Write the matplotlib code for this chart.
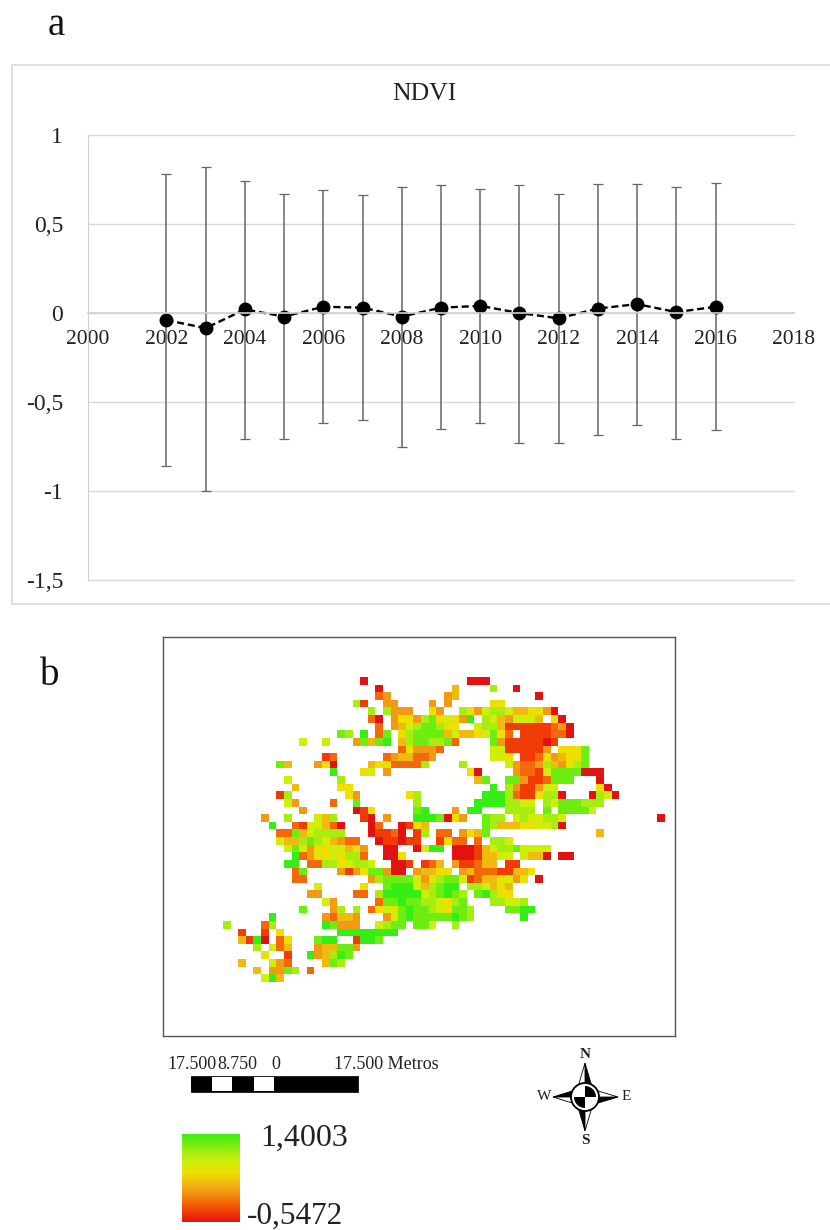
import numpy as np
import matplotlib
matplotlib.use("Agg")
import matplotlib.pyplot as plt
from matplotlib.colors import LinearSegmentedColormap
from matplotlib.patches import Rectangle, Polygon, Wedge, Circle

plt.rcParams['font.family'] = ['Liberation Serif', 'DejaVu Serif']

# ---- panel a data ----
years = list(range(2002, 2017))
ndvi_mean = [-0.04, -0.085, 0.02, -0.02, 0.035, 0.03, -0.02, 0.03, 0.04, 0.0, -0.03, 0.025, 0.05, 0.005, 0.035]
ndvi_upper = [0.78, 0.82, 0.74, 0.67, 0.69, 0.665, 0.71, 0.72, 0.695, 0.72, 0.67, 0.725, 0.725, 0.71, 0.73]
ndvi_lower = [-0.86, -1.0, -0.71, -0.71, -0.62, -0.60, -0.755, -0.65, -0.62, -0.73, -0.73, -0.685, -0.63, -0.71, -0.66]
x_ticks = [2000, 2002, 2004, 2006, 2008, 2010, 2012, 2014, 2016, 2018]
y_ticks = [-1.5, -1, -0.5, 0, 0.5, 1]
y_labels = ['-1,5', '-1', '-0,5', '0', '0,5', '1']

# ---- panel b data: class per cell, by row: (first column, classes; '.' = no data) ----
map_rows = [
    [(18, "0"), (32, "000")],
    [(20, "0"), (30, "4"), (35, "7"), (38, "0")],
    [(20, "23"), (29, "34"), (41, "0")],
    [(17, "71"), (21, "33"), (27, "3"), (29, "3"), (35, "55")],
    [(19, "7.7333"), (27, "53"), (31, "7536776445530")],
    [(19, "20.35537856539.76436664.50")],
    [(20, "2.346788755..6774111111230")],
    [(15, "87.9.28.578888464456852.1111220")],
    [(10, "6"), (13, "6"), (17, "38489.47887782"), (35, "83111110" + "1")],
    [(23, "253332"), (35, "66111113.5558")],
    [(13, "12"), (21, "2344223"), (35, "665.112534558")],
    [(7, "84"), (12, "350"), (19, "45522227"), (31, "7"), (37, "63223743578")],
    [(14, "9"), (18, "56.3"), (32, "50"), (38, "322168888000")],
    [(8, "6"), (15, "7"), (33, "48"), (37, "883112888"), (49, "0")],
    [(9, "4"), (15, "55"), (35, "9"), (37, "7311366"), (49, "50")],
    [(7, "17"), (16, "53"), (24, "57"), (34, "99972115770"), (48, "0760")],
    [(8, "63"), (14, "2"), (17, "8"), (25, "7"), (33, "99997766.76888777")],
    [(10, "3"), (17, "015"), (25, "89"), (30, "3.99"), (37, "7777.8.88886")],
    [(5, "3"), (8, "7"), (12, "647"), (18, "10.3"), (25, "9998053"), (34, "877.6766776"), (57, "0")],
    [(6, "9"), (9, "2166420"), (19, "02"), (23, "0154"), (34, "87444556670")],
    [(7, "228467777"), (19, "01120.17.22.3548"), (49, "4")],
    [(7, "64478764322"), (20, "011011"), (28, "1522.2"), (35, "776")],
    [(8, "68635566453"), (21, "00"), (25, "0699"), (30, "0001467786666")],
    [(9, "9235565772"), (21, "005"), (30, "00014466.6440.00")],
    [(8, "99.227756776"), (22, "001.124"), (30, "311244.11")],
    [(9, "28"), (15, "313588300"), (25, "34455.3422211445")],
    [(9, "22"), (19, "378888635788612445635.0")],
    [(12, "6"), (18, "5"), (21, "8999647899.776454")],
    [(11, "33"), (17, "22.799999678987.89755")],
    [(13, "63"), (20, "288988776578"), (35, "77667")],
    [(10, "8"), (14, "37.7.25658988765887"), (37, "8899")],
    [(6, "9"), (13, "32443"), (21, "368988888987"), (39, "9")],
    [(0, "7"), (5, "27"), (13, "98333"), (20, "6788.886"), (30, "7")],
    [(2, "1"), (5, "1.5"), (15, "99999999")],
    [(2, "4190.25"), (12, "899"), (17, "1998")],
    [(4, "7.624"), (12, "344883")],
    [(5, "5"), (8, "1"), (11, "934798")],
    [(2, "4"), (6, "632"), (13, "487")],
    [(4, "4"), (6, "3387"), (11, "2")],
    [(5, "694")],
]
n_cols = 58
map_min, map_max = -0.5472, 1.4003
class_colors = ['#e31212', '#f23c05', '#f56a0a', '#f29a14', '#f0bb10',
                '#eee000', '#d0ee0a', '#a8ee10', '#6eee10', '#34ee14']
cb_labels = ['1,4003', '-0,5472']
scale_labels = ['17.500', '8.750', '0', '17.500 Metros']
scale_edges = [0, 64, 124, 190, 250, 501]

W, H = 830, 1230
fig = plt.figure(figsize=(W / 100, H / 100), dpi=100, facecolor='white')


def rect(l, t, r, b):
    return [l / W, 1 - b / H, (r - l) / W, (b - t) / H]


# overlay in pixel units for the decoration
ov = fig.add_axes([0, 0, 1, 1], zorder=0)
ov.set_xlim(0, W)
ov.set_ylim(H, 0)
ov.axis('off')
ov.add_patch(Rectangle((12, 65), 830, 539, fc='white', ec='#d9d9d9', lw=1.2))
ov.text(56, 35, 'a', fontsize=28, ha='center', va='baseline', color='#111111')
ov.text(50, 685, 'b', fontsize=28, ha='center', va='baseline', color='#111111')

# ---- panel a ----
ax = fig.add_axes(rect(88, 135, 794, 580), zorder=1)
ax.patch.set_alpha(0)
for s in ('top', 'right'):
    ax.spines[s].set_visible(False)
ax.spines['left'].set_color('#d0d0d0')
ax.spines['bottom'].set_position(('data', 0))
ax.spines['bottom'].set_color('#d0d0d0')
ax.spines['bottom'].set_linewidth(1.2)
ax.set_xlim(2000, 2018)
ax.set_ylim(-1.5, 1)
ax.set_yticks(y_ticks)
ax.set_yticklabels(y_labels, fontsize=17, color='#222222')
ax.set_xticks(x_ticks)
ax.set_xticklabels([str(v) for v in x_ticks], fontsize=15.5, color='#222222')
ax.grid(axis='y', color='#d9d9d9', lw=1, clip_on=False)
ax.set_axisbelow(True)
ax.tick_params(axis='y', length=0, pad=18)
ax.tick_params(axis='x', length=0, pad=12.5)
m = np.array(ndvi_mean)
err = [m - np.array(ndvi_lower), np.array(ndvi_upper) - m]
ax.errorbar(years, m, yerr=err, fmt='none', ecolor='#666666', elinewidth=1.1,
            capsize=3.6, capthick=0.9, clip_on=False)
ax.plot(years, m, color='black', ls='--', lw=1.7, dashes=(3, 1.6),
        marker='o', ms=9, mfc='black', mec='black', clip_on=False)
ax.text(424, 94, 'NDVI', transform=ov.transData, ha='center', va='center',
        fontsize=18.5, color='#222222')

# ---- panel b ----
grid = np.full((len(map_rows), n_cols), np.nan)
for r, runs in enumerate(map_rows):
    for start, codes in runs:
        for i, ch in enumerate(codes):
            if ch != '.':
                grid[r, start + i] = map_min + int(ch) / 9 * (map_max - map_min)
cmap = LinearSegmentedColormap.from_list('ndvi', class_colors)
cmap.set_bad((1, 1, 1, 0))

cell = 7.62
axm = fig.add_axes(rect(163, 637, 675, 1036), zorder=1)
axm.imshow(grid, cmap=cmap, vmin=map_min, vmax=map_max, aspect='auto',
           interpolation='nearest', origin='upper')
axm.set_xlim((163 - 227) / cell, (675 - 227) / cell)
axm.set_ylim((1036 - 680.7) / cell, (637 - 680.7) / cell)
axm.set_xticks([])
axm.set_yticks([])
for s in axm.spines.values():
    s.set_color('#555555')
    s.set_linewidth(1)

# scale bar
x0, ytop, ybot = 190.7, 1076, 1092
ov.add_patch(Rectangle((x0, ytop), 167, ybot - ytop, fc='black', ec='black', lw=0.5))
for i in range(len(scale_edges) - 1):
    fc = 'black' if i % 2 == 0 else 'white'
    a, b = scale_edges[i] / 3, scale_edges[i + 1] / 3
    ov.add_patch(Rectangle((x0 + a, ytop + 1), b - a, ybot - ytop - 2, fc=fc, ec='none'))
for lab, lx in zip(scale_labels, [167, 217.5, 271, 334]):
    ov.text(lx, 1069, lab, fontsize=13, ha='left', va='baseline', color='#222222')

# north arrow
cx, cy, rad = 585, 1097, 14
arms = [(0, -34), (33, 0), (0, 34), (-32, 0)]
for i, (dx, dy) in enumerate(arms):
    px, py = (-dy, dx)
    norm = np.hypot(px, py)
    px, py = px / norm * 10, py / norm * 10
    ov.add_patch(Polygon([(cx, cy), (cx + dx, cy + dy), (cx + px, cy + py)],
                         fc='black', ec='black', lw=0.6))
    ov.add_patch(Polygon([(cx, cy), (cx + dx, cy + dy), (cx - px, cy - py)],
                         fc='white', ec='black', lw=0.6))
ov.add_patch(Circle((cx, cy), rad, fc='white', ec='black', lw=1.3))
ov.add_patch(Wedge((cx, cy), rad - 3, 270, 360, fc='black', ec='none'))
ov.add_patch(Wedge((cx, cy), rad - 3, 90, 180, fc='black', ec='none'))
ov.text(585, 1055, 'N', fontsize=11, fontweight='bold', ha='center', va='center', color='#222222')
ov.text(585, 1140, 'S', fontsize=11, fontweight='bold', ha='center', va='center', color='#222222')
ov.text(544, 1097, 'W', fontsize=11, ha='center', va='center', color='#222222')
ov.text(626, 1097, 'E', fontsize=11, ha='center', va='center', color='#222222')

# colour ramp legend
axc = fig.add_axes(rect(182, 1134, 240, 1222), zorder=1)
axc.imshow(np.linspace(map_max, map_min, 256)[:, None], cmap=cmap, vmin=map_min,
           vmax=map_max, aspect='auto', interpolation='bilinear')
axc.axis('off')
ov.text(260, 1138, cb_labels[0], fontsize=23, ha='left', va='center', color='#222222')
ov.text(247, 1224, cb_labels[1], fontsize=22.5, ha='left', va='baseline', color='#222222')

fig.savefig('out.png', dpi=100, facecolor='white')
